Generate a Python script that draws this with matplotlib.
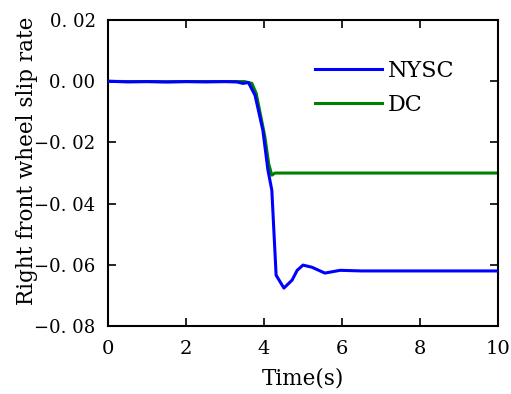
import matplotlib
matplotlib.use("Agg")
import matplotlib.pyplot as plt

# time samples and slip rate values
t_nysc = [0, 0.5, 1.0, 1.5, 2.0, 2.5, 3.0, 3.3, 3.46, 3.6, 3.77, 3.97, 4.1, 4.2,
          4.31, 4.51, 4.72, 4.85, 5.0, 5.23, 5.56, 5.95, 6.5, 10]
s_nysc = [0.0, -0.0002, -0.0001, -0.0002, -0.0001, -0.0002, -0.0001, -0.0002,
          -0.0007, -0.0004, -0.0046, -0.016, -0.029, -0.0356,
          -0.0634, -0.0676, -0.065, -0.0618, -0.0601, -0.0608, -0.0627, -0.0618,
          -0.062, -0.062]

t_dc = [0, 0.5, 1.0, 1.5, 2.0, 2.5, 3.0, 3.3, 3.5, 3.69, 3.8, 4.02, 4.12, 4.2,
        4.28, 5.0, 10]
s_dc = [0.0, -0.0001, -0.0001, -0.0002, -0.0001, -0.0001, -0.0001, -0.0001,
        -0.0001, -0.0007, -0.004, -0.018, -0.027, -0.0307,
        -0.030, -0.030, -0.030]

xticks = [0, 2, 4, 6, 8, 10]
yticks = [0.02, 0.0, -0.02, -0.04, -0.06, -0.08]
ytick_labels = ["0. 02", "0. 00", "\u22120. 02", "\u22120. 04", "\u22120. 06", "\u22120. 08"]

plt.rcParams['font.family'] = ['DejaVu Serif']

fig = plt.figure(figsize=(5.11, 3.94), dpi=100)
ax = fig.add_axes([0.2114, 0.1726, 0.7632, 0.7764])

ax.plot(t_nysc, s_nysc, color='#0000ff', lw=2.2, label='NYSC', zorder=3)
ax.plot(t_dc, s_dc, color='#008000', lw=2.2, label='DC', zorder=2)

ax.set_xlim(0, 10)
ax.set_ylim(-0.08, 0.02)
ax.set_xticks(xticks)
ax.set_xticklabels([str(x) for x in xticks], fontsize=14)
ax.set_yticks(yticks)
ax.set_yticklabels(ytick_labels, fontsize=13)
ax.tick_params(direction='in', top=True, right=True, length=6, width=1.2)
ax.tick_params(axis='x', pad=10)
ax.tick_params(axis='y', pad=9)
for sp in ax.spines.values():
    sp.set_linewidth(1.5)

ax.set_xlabel("Time(s)", fontsize=15.5, labelpad=7)
ax.set_ylabel("Right front wheel slip rate", fontsize=15.5)
ax.yaxis.set_label_coords(-0.18, 0.54)

ax.legend(loc='upper left', bbox_to_anchor=(0.48, 0.935), frameon=False,
          fontsize=16, handlelength=3.0, handletextpad=0.25, labelspacing=0.55)

fig.savefig("out.png", dpi=100)
